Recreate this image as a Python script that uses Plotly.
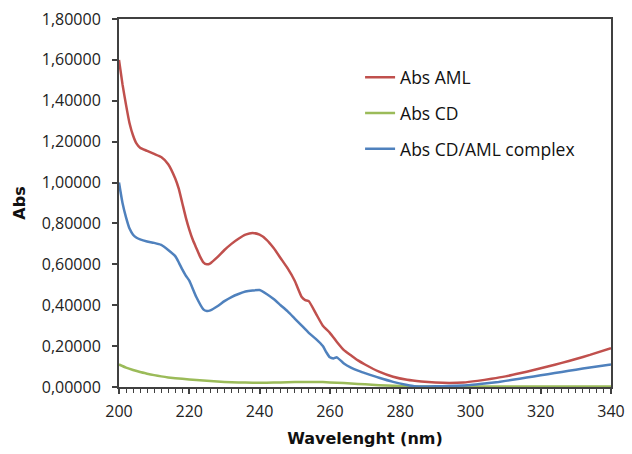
import plotly.graph_objects as go

# Wavelength (nm) and absorbance values
x_aml = [200, 201, 202, 203, 204, 205, 206, 208, 210, 212, 214, 216, 217, 218, 219, 220, 221, 222, 223, 224, 225, 226, 228, 230, 232, 234, 236, 238, 240, 242, 244, 246, 248, 250, 252, 253, 254, 256, 258, 260, 262, 264, 266, 268, 270, 274, 278, 282, 286, 290, 294, 298, 302, 306, 310, 314, 318, 322, 326, 330, 334, 340]
y_aml = [1.60, 1.48, 1.38, 1.29, 1.23, 1.19, 1.17, 1.155, 1.14, 1.125, 1.09, 1.02, 0.97, 0.90, 0.83, 0.77, 0.72, 0.68, 0.64, 0.61, 0.60, 0.605, 0.635, 0.67, 0.70, 0.725, 0.745, 0.753, 0.745, 0.72, 0.68, 0.63, 0.58, 0.52, 0.44, 0.425, 0.42, 0.36, 0.30, 0.265, 0.22, 0.18, 0.155, 0.13, 0.11, 0.075, 0.05, 0.035, 0.027, 0.022, 0.02, 0.022, 0.03, 0.04, 0.052, 0.067, 0.083, 0.10, 0.118, 0.137, 0.157, 0.19]

x_cd = [200, 202, 204, 206, 208, 210, 212, 214, 218, 222, 226, 230, 234, 238, 242, 246, 250, 254, 258, 262, 266, 270, 274, 278, 282, 286, 290, 300, 310, 320, 330, 340]
y_cd = [0.11, 0.095, 0.083, 0.073, 0.065, 0.058, 0.052, 0.047, 0.04, 0.034, 0.029, 0.025, 0.022, 0.021, 0.021, 0.022, 0.024, 0.025, 0.024, 0.021, 0.017, 0.013, 0.009, 0.006, 0.003, 0.002, 0.002, 0.002, 0.002, 0.002, 0.002, 0.002]

x_cplx = [200, 201, 202, 203, 204, 205, 206, 208, 210, 212, 214, 216, 217, 218, 219, 220, 222, 224, 225, 226, 228, 230, 232, 234, 236, 238, 240, 242, 244, 246, 248, 250, 252, 254, 256, 258, 259, 260, 261, 262, 264, 266, 268, 270, 274, 278, 282, 284, 288, 292, 296, 300, 304, 308, 312, 316, 320, 324, 328, 332, 336, 340]
y_cplx = [1.00, 0.90, 0.83, 0.775, 0.745, 0.73, 0.722, 0.712, 0.705, 0.695, 0.67, 0.64, 0.61, 0.575, 0.545, 0.52, 0.44, 0.38, 0.372, 0.375, 0.395, 0.42, 0.44, 0.455, 0.467, 0.472, 0.474, 0.455, 0.43, 0.40, 0.37, 0.335, 0.30, 0.265, 0.235, 0.20, 0.17, 0.145, 0.14, 0.145, 0.115, 0.095, 0.08, 0.068, 0.045, 0.025, 0.01, 0.004, 0.003, 0.004, 0.006, 0.01, 0.017, 0.025, 0.035, 0.046, 0.057, 0.068, 0.079, 0.09, 0.10, 0.11]

y_tickvals = [0, 0.2, 0.4, 0.6, 0.8, 1.0, 1.2, 1.4, 1.6, 1.8]
y_ticktext = ["0,00000", "0,20000", "0,40000", "0,60000", "0,80000", "1,00000", "1,20000", "1,40000", "1,60000", "1,80000"]
x_tickvals = [200, 220, 240, 260, 280, 300, 320, 340]

fig = go.Figure()
fig.add_trace(go.Scatter(x=x_aml, y=y_aml, mode="lines", name="Abs AML",
                         line=dict(color="#C0504D", width=2.5, shape="spline", smoothing=0.5),
                         legendgroup="a"))
fig.add_trace(go.Scatter(x=x_cd, y=y_cd, mode="lines", name="Abs CD",
                         line=dict(color="#9BBB59", width=2.5, shape="spline", smoothing=0.5),
                         legendgroup="b"))
fig.add_trace(go.Scatter(x=x_cplx, y=y_cplx, mode="lines", name="Abs CD/AML complex",
                         line=dict(color="#4F81BD", width=2.5, shape="spline", smoothing=0.5),
                         legendgroup="c"))

axis_col = "#404040"
fig.update_layout(
    width=632, height=454,
    margin=dict(l=119, r=21, t=19, b=67),
    paper_bgcolor="white", plot_bgcolor="white",
    font=dict(family="Open Sans", color="#222222"),
    showlegend=True,
    legend=dict(x=0.49, y=0.89, xanchor="left", yanchor="top",
                traceorder="grouped", tracegroupgap=10,
                font=dict(family="Open Sans", size=17.5, color="#111111"),
                bgcolor="rgba(0,0,0,0)"),
    xaxis=dict(range=[200, 340], tickvals=x_tickvals, ticks="outside", ticklen=5,
               tickwidth=1.5, tickcolor=axis_col, automargin=False,
               showline=True, linecolor=axis_col, linewidth=2, mirror=True,
               showgrid=False, zeroline=False, ticklabelstandoff=4,
               tickfont=dict(family="Open Sans", size=16, color="#222222"),
               minor=dict(dtick=2, ticks="outside", ticklen=4, tickwidth=1, tickcolor=axis_col, showgrid=False),
               title=dict(text="Wavelenght (nm)", standoff=12,
                          font=dict(family="DejaVu Sans", size=16, color="#111111", weight="bold"))),
    yaxis=dict(range=[0, 1.8], tickvals=y_tickvals, ticktext=y_ticktext, ticks="outside", ticklen=5,
               tickwidth=1.5, tickcolor=axis_col, automargin=False,
               showline=True, linecolor=axis_col, linewidth=2, mirror=True,
               showgrid=False, zeroline=False, ticklabelstandoff=8,
               tickfont=dict(family="Open Sans", size=16, color="#222222"),
               title=dict(text="Abs", standoff=12,
                          font=dict(family="DejaVu Sans", size=16, color="#111111", weight="bold"))),
)

fig.write_html("out.html")
